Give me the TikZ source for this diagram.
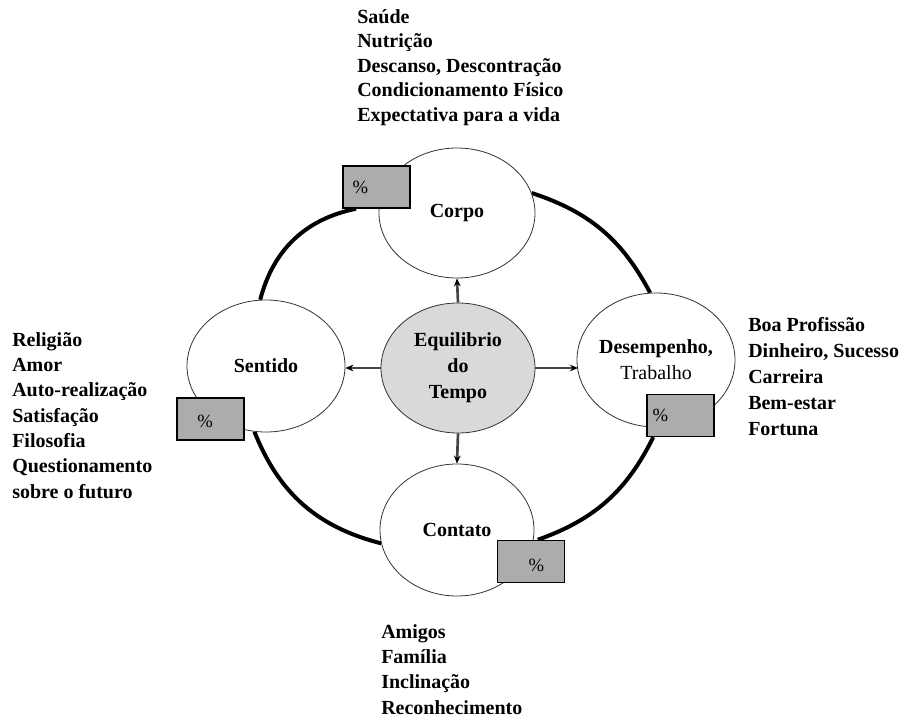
\documentclass[tikz,border=0pt]{standalone}
\usepackage{fontspec}
\setmainfont{Liberation Serif}
\usetikzlibrary{shapes.geometric,arrows.meta,calc}
\pgfdeclarelayer{background}
\pgfsetlayers{background,main}
\begin{document}
\begin{tikzpicture}[x=0.75pt,y=-0.75pt,
  ell/.style={draw=black!80, line width=0.6pt, fill=white, ellipse, inner sep=0pt,
              font=\fontsize{15}{19.5}\selectfont\bfseries, align=center},
  pbox/.style={draw=black, line width=1.1pt, fill=gray!65, minimum width=50pt,
               minimum height=31.5pt, inner sep=0pt},
  pct/.style={font=\fontsize{14}{16}\selectfont},
  lst/.style={font=\fontsize{15}{19}\selectfont\bfseries, align=left, inner sep=0pt, anchor=north west},
  ring/.style={line width=3pt, draw=black},
  arr/.style={draw=gray!55!black, line width=2pt, -{Stealth[length=6pt,width=5pt,color=black]}}
]
\useasboundingbox (0,0) rectangle (907,717);

% ellipses
\node[ell, minimum width=117pt, minimum height=97.5pt] (corpo) at (457,213) {Corpo};
\node[ell, fill=gray!30, minimum width=115.5pt, minimum height=97.5pt] (eq) at (458,368) {Equilibrio\\do\\Tempo};
\node[ell, minimum width=115.5pt, minimum height=99pt] (contato) at (457,530) {Contato};
\node[ell, minimum width=118.5pt, minimum height=99pt] (sentido) at (266,366) {Sentido};
\node[ell, inner xsep=-2pt, minimum width=118.5pt, minimum height=100.5pt] (desemp) at (656,360) {Desempenho,\\\mdseries Trabalho};

% percentage boxes
\node[pbox, label={[pct, xshift=-12pt]center:\%}] (corpobox) at (376.5,187) {};
\node[pbox, label={[pct, xshift=-4pt, yshift=-2pt]center:\%}] (sentidobox) at (210.5,419) {};
\node[pbox, label={[pct, xshift=-15pt]center:\%}] (desempbox) at (680.5,415.5) {};
\node[pbox, label={[pct, xshift=4pt, yshift=-3pt]center:\%}] (contatobox) at (531,561.5) {};

% ring
\begin{pgfonlayer}{background}
\draw[ring] (sentido.95) to[bend left=32] ($(corpobox.south west)!.2!(corpobox.south east)$);
\draw[ring] (corpo.15) to[bend left=22] (desemp.95);
\draw[ring] ($(desempbox.south west)!.1!(desempbox.south east)$) to[bend left=22] ($(contatobox.north west)!.6!(contatobox.north east)$);
\draw[ring] (contato.190) to[bend left=27] (sentido.260);
\end{pgfonlayer}

% arrows
\draw[arr] (eq.north) -- (corpo.south);
\draw[arr] (eq.south) -- (contato.north);
\draw[arr] (eq.west) -- (eq.west -| sentido.east);
\draw[arr] (eq.east) -- ([xshift=1pt]eq.east -| desemp.west);

% lists
\node[lst, font=\fontsize{15}{18.4}\selectfont\bfseries] (tlist) at (357,9) {Saúde\\Nutrição\\Descanso, Descontração\\Condicionamento Físico\\Expectativa para a vida};
\node[lst] (llist) at (12,332) {Religião\\Amor\\Auto-realização\\Satisfação\\Filosofia\\Questionamento\\sobre o futuro};
\node[lst, font=\fontsize{15}{19.5}\selectfont\bfseries] (rlist) at (748,317) {Boa Profissão\\Dinheiro, Sucesso\\Carreira\\Bem-estar\\Fortuna};
\node[lst] (blist) at (381,624) {Amigos\\Família\\Inclinação\\Reconhecimento};
\end{tikzpicture}
\end{document}
